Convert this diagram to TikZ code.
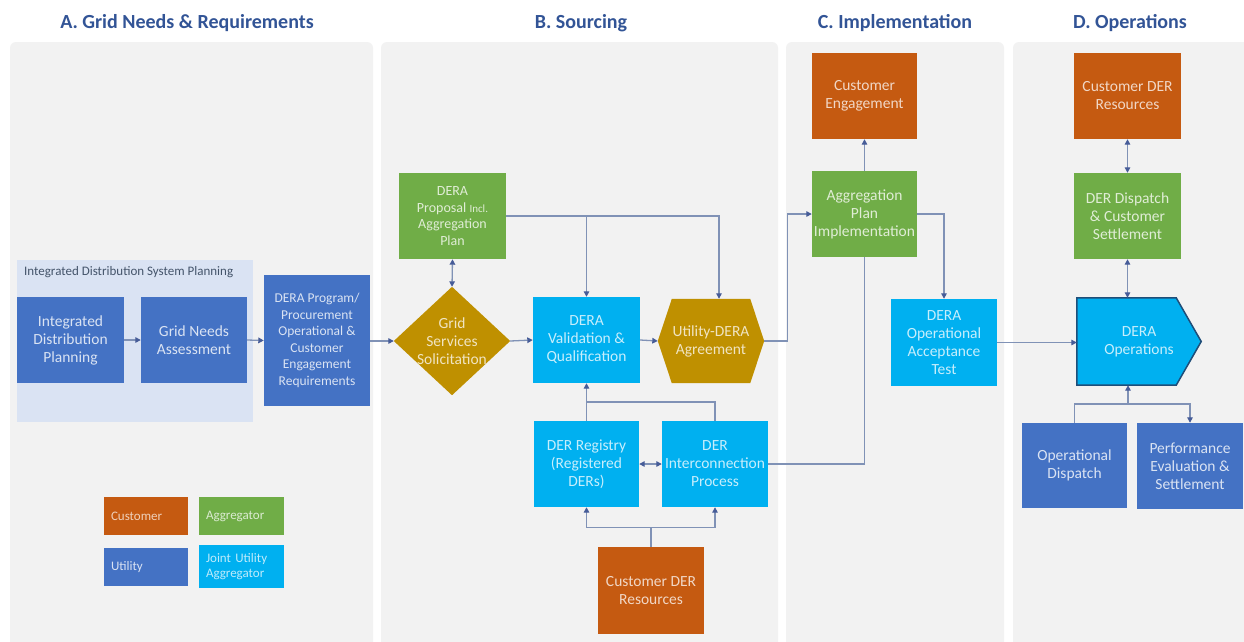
\documentclass[tikz,border=0pt]{standalone}
\usepackage{fontspec}
\setmainfont{Carlito}
\usetikzlibrary{arrows.meta,calc}
\definecolor{panel}{HTML}{F2F2F2}
\definecolor{idsp}{HTML}{DAE3F3}
\definecolor{ublue}{HTML}{4472C4}
\definecolor{agreen}{HTML}{70AD47}
\definecolor{corange}{HTML}{C55A11}
\definecolor{jblue}{HTML}{00B0F0}
\definecolor{gold}{HTML}{BF9000}
\definecolor{titlec}{RGB}{50,84,150}
\definecolor{linec}{RGB}{128,146,182}
\definecolor{tipc}{RGB}{70,92,152}
\definecolor{opsborder}{HTML}{1F4E79}
\definecolor{labelc}{RGB}{68,84,106}
\pgfdeclarelayer{panels}
\pgfdeclarelayer{shapes}
\pgfsetlayers{panels,shapes,main}
\newcommand\mysize[2]{\fontsize{#1}{#2}\selectfont}
\tikzset{
  box/.style={rectangle, inner sep=0pt, align=center, font=\mysize{15.5}{18}},
  ubox/.style={box, fill=ublue, text=white!80!ublue},
  gbox/.style={box, fill=agreen, text=white!78!agreen},
  obox/.style={box, fill=corange, text=white!76!corange},
  jbox/.style={box, fill=jblue, text=white!78!jblue},
  goldtext/.style={box, text=white!76!gold},
  jtext/.style={box, text=white!78!jblue},
  legbox/.style={rectangle, inner xsep=7pt, inner ysep=0pt, minimum height=38pt, align=left, font=\mysize{13}{15}},
  arr/.style={draw=linec, line width=1.3pt, -{Triangle[length=5.5pt,width=5.5pt,color=tipc]}},
  darr/.style={draw=linec, line width=1.3pt, {Triangle[length=5.5pt,width=5.5pt,color=tipc]}-{Triangle[length=5.5pt,width=5.5pt,color=tipc]}},
  plain/.style={draw=linec, line width=1.3pt},
  ttl/.style={font=\bfseries\mysize{20}{24}, text=titlec, inner sep=0pt}
}
\begin{document}
\begin{tikzpicture}[x=1pt,y=-1pt]
\useasboundingbox (0,0) rectangle (1244,641);
\begin{pgfonlayer}{panels}
  \fill[white] (0,0) rectangle (1244,641);
  \fill[panel, rounded corners=6pt] (10,42) rectangle (373,660);
  \fill[panel, rounded corners=6pt] (381,42) rectangle (778,660);
  \fill[panel, rounded corners=6pt] (786,42) rectangle (1004,660);
  \fill[panel, rounded corners=6pt] (1013,42) rectangle (1260,660);
  \fill[idsp] (17,260) rectangle (253,422);
\end{pgfonlayer}

% titles
\node[ttl] (ta) at (187,23) {A. Grid Needs \& Requirements};
\node[ttl] (tb) at (581,23) {B. Sourcing};
\node[ttl] (tc) at (895,23) {C. Implementation};
\node[ttl] (td) at (1130,23) {D. Operations};

\node[anchor=west, font=\mysize{13}{15}, text=labelc, inner sep=0pt] (idspl) at (24,272) {Integrated Distribution System Planning};

% A
\node[ubox, minimum width=107pt, minimum height=86pt] (idp) at (70.5,340) {Integrated\\Distribution\\Planning};
\node[ubox, minimum width=106pt, minimum height=86pt] (gna) at (194,340) {Grid Needs\\Assessment};
\node[ubox, minimum width=106pt, minimum height=131pt, font=\mysize{13.5}{16.5}] (prog) at (317,340.5) {DERA Program/\\Procurement\\Operational \&\\Customer\\Engagement\\Requirements};

% B
\node[goldtext, minimum width=116pt, minimum height=108pt] (gss) at (452,341) {Grid\\Services\\Solicitation};
\node[gbox, minimum width=107pt, minimum height=86pt, font=\mysize{14}{16.5}] (prop) at (452.5,216) {DERA\\Proposal {\mysize{11}{16.5}Incl.}\\Aggregation\\Plan};
\node[jbox, minimum width=107pt, minimum height=86pt] (val) at (586.5,340) {DERA\\Validation \&\\Qualification};
\node[goldtext, minimum width=106pt, minimum height=84pt] (hex) at (711,341) {Utility-DERA\\Agreement};
\node[jbox, minimum width=105pt, minimum height=86pt] (reg) at (586.5,464) {DER Registry\\(Registered\\DERs)};
\node[jbox, minimum width=106pt, minimum height=86pt] (intc) at (715,464) {DER\\Interconnection\\Process};
\node[obox, minimum width=106pt, minimum height=87pt] (cdr1) at (651,590.5) {Customer DER\\Resources};

% C
\node[obox, minimum width=105pt, minimum height=86pt] (ce) at (864.5,96) {Customer\\Engagement};
\node[gbox, minimum width=105pt, minimum height=86pt] (api) at (864.5,214) {Aggregation\\Plan\\Implementation};
\node[jbox, minimum width=106pt, minimum height=87pt] (oat) at (944,342.5) {DERA\\Operational\\Acceptance\\Test};

% D
\node[obox, minimum width=107pt, minimum height=86pt] (cdr2) at (1127.5,96) {Customer DER\\Resources};
\node[gbox, minimum width=107pt, minimum height=86pt] (dds) at (1127.5,216) {DER Dispatch\\\& Customer\\Settlement};
\node[jtext, minimum width=124pt, minimum height=87pt] (ops) at (1139,341.5) {DERA\\Operations};
\node[ubox, minimum width=105pt, minimum height=85pt] (opd) at (1074.5,465.5) {Operational\\Dispatch};
\node[ubox, minimum width=106pt, minimum height=86pt] (perf) at (1190,466) {Performance\\Evaluation \&\\Settlement};

% legend
\node[legbox, fill=corange, text=white!72!corange, minimum width=84pt, text width=70pt] (lc) at (146,516) {Customer};
\node[legbox, fill=agreen, text=white!75!agreen, minimum width=85pt, text width=71pt] (la) at (241.5,516) {Aggregator};
\node[legbox, fill=ublue, text=white!80!ublue, minimum width=84pt, text width=70pt] (lu) at (146,567) {Utility};
\node[legbox, fill=jblue, text=white!75!jblue, minimum width=85pt, text width=71pt, minimum height=43pt] (lj) at (241.5,566.5) {Joint Utility\\Aggregator};

% non-rectangular shapes
\begin{pgfonlayer}{shapes}
  \fill[gold] (gss.west) -- (gss.north) -- (gss.east) -- (gss.south) -- cycle;
  \fill[gold] (hex.west) -- ([xshift=14pt]hex.north west) -- ([xshift=-14pt]hex.north east) -- (hex.east) -- ([xshift=-14pt]hex.south east) -- ([xshift=14pt]hex.south west) -- cycle;
  \filldraw[fill=jblue, draw=opsborder, line width=1.5pt] (ops.north west) -- ([xshift=-25pt]ops.north east) -- (ops.east) -- ([xshift=-25pt]ops.south east) -- (ops.south west) -- cycle;
\end{pgfonlayer}

% connectors A
\draw[arr] (idp.east) -- (gna.west);
\draw[arr] (gna.east) -- (prog.west);
\draw[arr] (prog.east |- gss.west) -- (gss.west);
% B
\draw[arr] (gss.east) -- (val.west);
\draw[arr] (val.east) -- (hex.west);
\draw[darr] (prop.south) -- (gss.north);
\draw[arr] (prop.east) -| ([xshift=8pt]hex.north);
\draw[arr] (prop.east -| val.north) -- (val.north);
\draw[arr] (reg.north) -- (val.south);
\coordinate (rj) at ($(reg.north)!0.5!(val.south)$);
\draw[plain] (intc.north) |- (rj);
\draw[darr] (reg.east) -- (intc.west);
\coordinate (cj) at ($(cdr1.north)+(0,-19)$);
\draw[plain] (cdr1.north) -- (cj);
\draw[arr] (cj) -| (reg.south);
\draw[arr] (cj) -| (intc.south);
% B -> C
\draw[arr] (hex.east) -- ++(23,0) |- (api.west);
\draw[plain] (intc.east) -| (api.south);
% C
\draw[arr] (api.north) -- (ce.south);
\draw[arr] (api.east) -| (oat.north);
\draw[arr] (oat.east) -- (oat.east -| ops.west);
% D
\draw[darr] (cdr2.south) -- (dds.north);
\draw[darr] (dds.south) -- (dds.south |- ops.north);
\coordinate (oj) at (1128,404);
\draw[plain] (opd.north) |- (oj);
\draw[arr] (oj) -- (oj |- ops.south);
\draw[arr] (oj) -| (perf.north);
\end{tikzpicture}
\end{document}
